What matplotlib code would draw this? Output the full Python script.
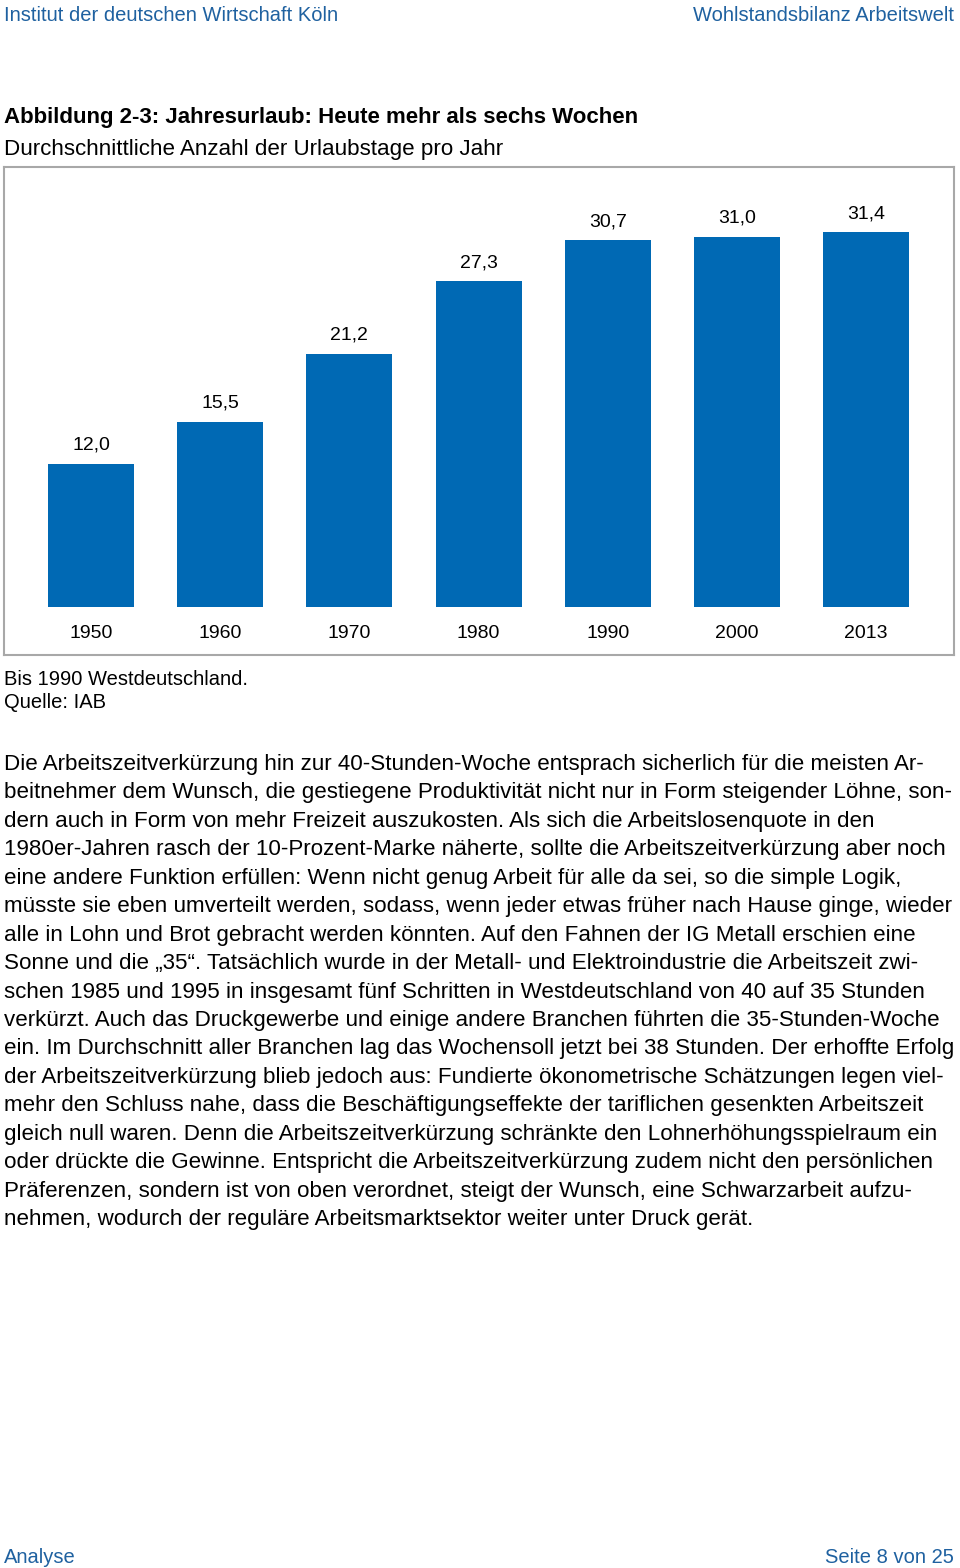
import matplotlib
matplotlib.use("Agg")
import matplotlib.pyplot as plt

plt.rcParams['font.family'] = ['Liberation Sans', 'DejaVu Sans']

# ---- data ----
years = ["1950", "1960", "1970", "1980", "1990", "2000", "2013"]
values = [12.0, 15.5, 21.2, 27.3, 30.7, 31.0, 31.4]
value_labels = ["12,0", "15,5", "21,2", "27,3", "30,7", "31,0", "31,4"]

header_left = "Institut der deutschen Wirtschaft Köln"
header_right = "Wohlstandsbilanz Arbeitswelt"
title = "Abbildung 2-3: Jahresurlaub: Heute mehr als sechs Wochen"
subtitle = "Durchschnittliche Anzahl der Urlaubstage pro Jahr"
notes = ["Bis 1990 Westdeutschland.", "Quelle: IAB"]
body_lines = [
    "Die Arbeitszeitverkürzung hin zur 40-Stunden-Woche entsprach sicherlich für die meisten Ar-",
    "beitnehmer dem Wunsch, die gestiegene Produktivität nicht nur in Form steigender Löhne, son-",
    "dern auch in Form von mehr Freizeit auszukosten. Als sich die Arbeitslosenquote in den",
    "1980er-Jahren rasch der 10-Prozent-Marke näherte, sollte die Arbeitszeitverkürzung aber noch",
    "eine andere Funktion erfüllen: Wenn nicht genug Arbeit für alle da sei, so die simple Logik,",
    "müsste sie eben umverteilt werden, sodass, wenn jeder etwas früher nach Hause ginge, wieder",
    "alle in Lohn und Brot gebracht werden könnten. Auf den Fahnen der IG Metall erschien eine",
    "Sonne und die „35“. Tatsächlich wurde in der Metall- und Elektroindustrie die Arbeitszeit zwi-",
    "schen 1985 und 1995 in insgesamt fünf Schritten in Westdeutschland von 40 auf 35 Stunden",
    "verkürzt. Auch das Druckgewerbe und einige andere Branchen führten die 35-Stunden-Woche",
    "ein. Im Durchschnitt aller Branchen lag das Wochensoll jetzt bei 38 Stunden. Der erhoffte Erfolg",
    "der Arbeitszeitverkürzung blieb jedoch aus: Fundierte ökonometrische Schätzungen legen viel-",
    "mehr den Schluss nahe, dass die Beschäftigungseffekte der tariflichen gesenkten Arbeitszeit",
    "gleich null waren. Denn die Arbeitszeitverkürzung schränkte den Lohnerhöhungsspielraum ein",
    "oder drückte die Gewinne. Entspricht die Arbeitszeitverkürzung zudem nicht den persönlichen",
    "Präferenzen, sondern ist von oben verordnet, steigt der Wunsch, eine Schwarzarbeit aufzu-",
    "nehmen, wodurch der reguläre Arbeitsmarktsektor weiter unter Druck gerät.",
]
footer_left = "Analyse"
footer_right = "Seite 8 von 25"

# ---- figure ----
W, H = 960, 1568
fig = plt.figure(figsize=(W / 100, H / 100), dpi=100)

def fx(px):
    return px / W

def fy(py):
    return 1 - py / H

blue_text = "#1f61a0"
bar_color = "#0069b4"
fs = 14.5
fs_body = 16.1

# header / footer
fig.text(fx(4), fy(21), header_left, color=blue_text, fontsize=fs, va='baseline', ha='left')
fig.text(fx(954), fy(21), header_right, color=blue_text, fontsize=fs, va='baseline', ha='right')
fig.text(fx(4), fy(1563), footer_left, color=blue_text, fontsize=fs, va='baseline', ha='left')
fig.text(fx(954), fy(1563), footer_right, color=blue_text, fontsize=fs, va='baseline', ha='right')

# titles
fig.text(fx(4), fy(123), title, fontsize=16, fontweight='bold', va='baseline', ha='left', color='black')
fig.text(fx(4), fy(155), subtitle, fontsize=fs_body, va='baseline', ha='left', color='black')

# chart axes (box)
left, right, top, bottom = 4, 954, 167, 655
ax = fig.add_axes([fx(left), fy(bottom), fx(right - left), (bottom - top) / H])
x = list(range(len(years)))
ax.bar(x, values, width=0.666, color=bar_color, zorder=2)
ax.set_xlim(-0.6735, 6.681)
ax.set_ylim(-4.02, 36.85)
ax.set_xticks([])
ax.set_yticks([])
for s in ax.spines.values():
    s.set_color('#a8a8a8')
    s.set_linewidth(1.5)

for xi, v, lab, yr in zip(x, values, value_labels, years):
    ax.annotate(lab, xy=(xi, v), xytext=(0, 10.1), textcoords='offset points',
                ha='center', va='baseline', fontsize=14, color='black')
    ax.annotate(yr, xy=(xi, 0), xytext=(0, -22.3), textcoords='offset points',
                ha='center', va='baseline', fontsize=14, color='black')

# notes
fig.text(fx(4), fy(685), notes[0], fontsize=fs, va='baseline', ha='left')
fig.text(fx(4), fy(708), notes[1], fontsize=fs, va='baseline', ha='left')

# body text
for i, line in enumerate(body_lines):
    fig.text(fx(4), fy(770 + i * 28.44), line, fontsize=fs_body, va='baseline', ha='left')

fig.savefig("out.png", dpi=100)
